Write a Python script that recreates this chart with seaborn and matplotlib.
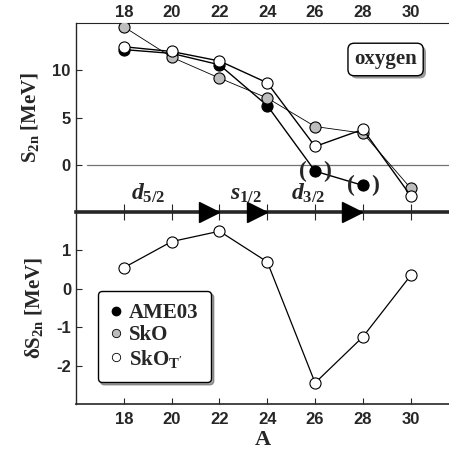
import numpy as np
import pandas as pd
import matplotlib
matplotlib.use("Agg")
import matplotlib.pyplot as plt
from matplotlib.lines import Line2D
import matplotlib.patheffects as pe
import seaborn as sns

# Dados
mass_a = [18, 20, 22, 24, 26, 28, 30]
s2n_ame03 = [12.2, 11.8, 10.6, 6.3, -0.6, -2.1]
s2n_sko = [14.6, 11.4, 9.2, 7.1, 4.1, 3.4, -2.4]
s2n_skot = [12.5, 12.0, 11.0, 8.7, 2.0, 3.8, -3.2]
ds2n_skot = [0.55, 1.23, 1.5, 0.7, -2.45, -1.25, 0.35]
shell_tips = [22, 24, 28]
shell_labels = [r"$d_{5/2}$", r"$s_{1/2}$", r"$d_{3/2}$"]
shell_label_x = [19.0, 23.1, 25.7]

sns.set_style("white")
plt.rcParams["font.family"] = ["Liberation Sans", "DejaVu Sans"]
plt.rcParams["axes.unicode_minus"] = False
plt.rcParams["mathtext.fontset"] = "custom"
plt.rcParams["mathtext.rm"] = "Liberation Serif:bold"
plt.rcParams["mathtext.it"] = "Liberation Serif:bold:italic"
plt.rcParams["mathtext.bf"] = "Liberation Serif:bold"

SERIF = dict(family="Liberation Serif", weight="bold")

fig = plt.figure(figsize=(4.49, 4.59), dpi=100)
ax1 = fig.add_axes([0.1693, 0.5381, 0.8307, 0.4118])
ax2 = fig.add_axes([0.1693, 0.1198, 0.8307, 0.4183])

# painel superior
df_ame = pd.DataFrame({"A": mass_a[:len(s2n_ame03)], "S": s2n_ame03})
df_sko = pd.DataFrame({"A": mass_a, "S": s2n_sko})
df_skot = pd.DataFrame({"A": mass_a, "S": s2n_skot})

sns.lineplot(data=df_ame, x="A", y="S", ax=ax1, color="black", lw=1.0,
             marker="o", markersize=8, markerfacecolor="black",
             markeredgecolor="black", markeredgewidth=0.8, zorder=3)
sns.lineplot(data=df_sko, x="A", y="S", ax=ax1, color="black", lw=0.6,
             marker="o", markersize=8, markerfacecolor="#bdbdbd",
             markeredgecolor="black", markeredgewidth=0.8, zorder=4)
sns.lineplot(data=df_skot, x="A", y="S", ax=ax1, color="black", lw=1.0,
             marker="o", markersize=8, markerfacecolor="white",
             markeredgecolor="black", markeredgewidth=0.8, zorder=5)

# parenteses nos pontos AME03 incertos
for a, s in zip(mass_a[4:6], s2n_ame03[4:6]):
    ax1.annotate("(", (a, s), xytext=(-8.5, 0), textcoords="offset points",
                 ha="center", va="center", fontsize=17, **SERIF)
    ax1.annotate(")", (a, s), xytext=(8.5, 0), textcoords="offset points",
                 ha="center", va="center", fontsize=17, **SERIF)

ax1.axhline(0, xmin=0.03, color="0.45", lw=0.9, zorder=1)

ax1.set_xlim(16, 31.6)
ax1.set_ylim(-4.9, 15)
ax1.set_xticks(mass_a)
ax1.set_yticks([0, 5, 10])
# 'inout' soma metade do comprimento ao pad, compensar com pad negativo
ax1.tick_params(axis="x", top=False, labeltop=True, bottom=True,
                labelbottom=False, direction="inout", length=12, width=0.8,
                labelsize=12, pad=-4)
ax1.tick_params(axis="y", left=True, direction="in", length=4, width=0.8,
                labelsize=12, pad=4)
for lab in ax1.get_xticklabels() + ax1.get_yticklabels():
    lab.set_fontweight("bold")
ax1.set_xlabel("")
ax1.set_ylabel("S$_{\\mathrm{2n}}$ [MeV]", fontsize=15, labelpad=8, **SERIF)
ax1.spines["right"].set_visible(False)
ax1.spines["top"].set_linewidth(0.8)
ax1.spines["left"].set_linewidth(1.0)
ax1.spines["bottom"].set_linewidth(2.6)

# setas de camadas
for tip in shell_tips:
    ax1.plot([tip - 0.45], [-4.9], marker=">", ms=15, color="black",
             clip_on=False, zorder=6)
for lbl, x in zip(shell_labels, shell_label_x):
    ax1.text(x, -3.6, lbl, ha="center", va="baseline", fontsize=17)

# caixa "oxygen" com sombra
oxy = ax1.text(0.83, 0.807, "oxygen", transform=ax1.transAxes, ha="center",
               va="center", fontsize=15, **SERIF,
               bbox=dict(boxstyle="round,pad=0.3", fc="white", ec="black", lw=1.0))
oxy.get_bbox_patch().set_path_effects(
    [pe.SimplePatchShadow(offset=(2, -2), shadow_rgbFace="0.5", alpha=0.8), pe.Normal()])

# painel inferior
df_ds = pd.DataFrame({"A": mass_a, "dS": ds2n_skot})
sns.lineplot(data=df_ds, x="A", y="dS", ax=ax2, color="black", lw=0.9,
             marker="o", markersize=8, markerfacecolor="white",
             markeredgecolor="black", markeredgewidth=0.8)
ax2.set_xlim(16, 31.6)
ax2.set_ylim(-3, 2)
ax2.set_xticks(mass_a)
ax2.set_yticks([-2, -1, 0, 1])
ax2.tick_params(axis="both", direction="in", length=4, width=0.8,
                labelsize=12, bottom=True, left=True)
ax2.tick_params(axis="x", pad=6)
for lab in ax2.get_xticklabels() + ax2.get_yticklabels():
    lab.set_fontweight("bold")
ax2.set_xlabel("A", fontsize=16, labelpad=2, **SERIF)
ax2.set_ylabel("δS$_{\\mathrm{2n}}$ [MeV]", fontsize=15, labelpad=8, **SERIF)
ax2.spines["right"].set_visible(False)
ax2.spines["top"].set_visible(False)
ax2.spines["left"].set_linewidth(1.0)
ax2.spines["bottom"].set_linewidth(1.2)

handles = [
    Line2D([], [], ls="none", marker="o", ms=6, mfc="black", mec="black"),
    Line2D([], [], ls="none", marker="o", ms=6, mfc="#bdbdbd", mec="black", mew=0.6),
    Line2D([], [], ls="none", marker="o", ms=6, mfc="white", mec="black", mew=0.6),
]
leg = ax2.legend(handles, ["AME03", "SkO", r"SkO$_{\mathrm{T'}}$"],
                 loc="lower left", bbox_to_anchor=(0.03, 0.06),
                 prop=dict(family="Liberation Serif", weight="bold", size=15),
                 frameon=True, fancybox=True, shadow=True,
                 handlelength=0.6, handletextpad=0.3, labelspacing=0.1,
                 borderpad=0.6, framealpha=1)
leg.get_frame().set_edgecolor("black")
leg.get_frame().set_linewidth(1.0)
ax2.set_zorder(0)
ax1.set_zorder(1)
ax1.patch.set_alpha(0)

fig.savefig("out.png", dpi=100)
